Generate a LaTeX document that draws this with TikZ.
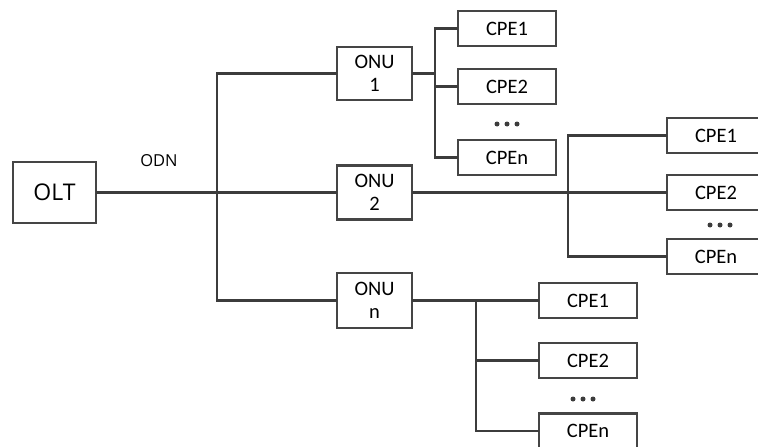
\documentclass[tikz,border=0pt]{standalone}
\usepackage{fontspec}
\setmainfont{Carlito}
\newfontfamily\olfont{Open Sans}
\begin{document}
\begin{tikzpicture}[x=1pt,y=-1pt,
  every node/.style={inner sep=0pt,outer sep=0pt},
  box/.style={draw=boxgray,line width=2.4pt,rectangle,align=center},
  cpebox/.style={box,minimum width=98pt,minimum height=35pt,font=\fontsize{20.5}{22}\selectfont},
  onubox/.style={box,minimum width=75pt,minimum height=54pt,font=\fontsize{20.5}{22.5}\selectfont},
  wire/.style={draw=linegray,line width=2.8pt},
  dotsty/.style={fill=linegray}]
\definecolor{boxgray}{HTML}{454545}
\definecolor{linegray}{HTML}{3C3C3C}
\useasboundingbox (0,0) rectangle (758,447);
\clip (0,0) rectangle (758,447);
\fill[white] (0,0) rectangle (758,447);

% OLT
\node[box,minimum width=83pt,minimum height=61pt,font=\olfont\fontsize{23}{26}\selectfont] (olt) at (54.5,192.5) {OLT};
\node[font=\olfont\fontsize{16.5}{19}\selectfont] (odn) at (159,161) {ODN};

% ONUs
\node[onubox,minimum height=53pt] (onu1) at (374.5,73.5) {ONU\\1};
\node[onubox] (onu2) at (374.5,192.5) {ONU\\2};
\node[onubox,minimum height=55pt] (onun) at (374.5,300.5) {ONU\\n};

% CPE group 1
\node[cpebox] (c11) at (507,28.5) {CPE1};
\node[cpebox] (c12) at (507,86.5) {CPE2};
\node[cpebox] (c1n) at (507,157.5) {CPEn};
% CPE group 2
\node[cpebox] (c21) at (716,135.5) {CPE1};
\node[cpebox] (c22) at (716,192.5) {CPE2};
\node[cpebox] (c2n) at (716,256.5) {CPEn};
% CPE group 3
\node[cpebox] (c31) at (588,300.5) {CPE1};
\node[cpebox] (c32) at (588,360.5) {CPE2};
\node[cpebox] (c3n) at (588,431) {CPEn};

% ODN bus
\coordinate (b0) at (217,192.5);
\draw[wire] (olt.east) -- (onu2.west);
\draw[wire] (onu1.west) -| (b0) |- (onun.west);

% group 1 bus
\coordinate (b1) at (435,87);
\draw[wire] (c11.west) -| (b1) |- (c1n.west);
\draw[wire] (c12.west) -- (c12.west -| b1);
\draw[wire] (onu1.east) -- (onu1.east -| b1);

% group 2 bus
\coordinate (b2) at (568,192.5);
\draw[wire] (c21.west) -| (b2) |- (c2n.west);
\draw[wire] (onu2.east) -- (c22.west);

% group 3 bus
\coordinate (b3) at (476,360);
\draw[wire] (onun.east) -- (c31.west);
\draw[wire] (c31.west -| b3) -- (b3) |- (c3n.west);
\draw[wire] (c32.west) -- (c32.west -| b3);

% dots
\foreach \cx/\cy in {507/124, 720/225, 583/399}{
  \fill[dotsty] (\cx-10,\cy) circle (2.5pt);
  \fill[dotsty] (\cx,\cy) circle (2.5pt);
  \fill[dotsty] (\cx+10,\cy) circle (2.5pt);
}
\end{tikzpicture}
\end{document}
